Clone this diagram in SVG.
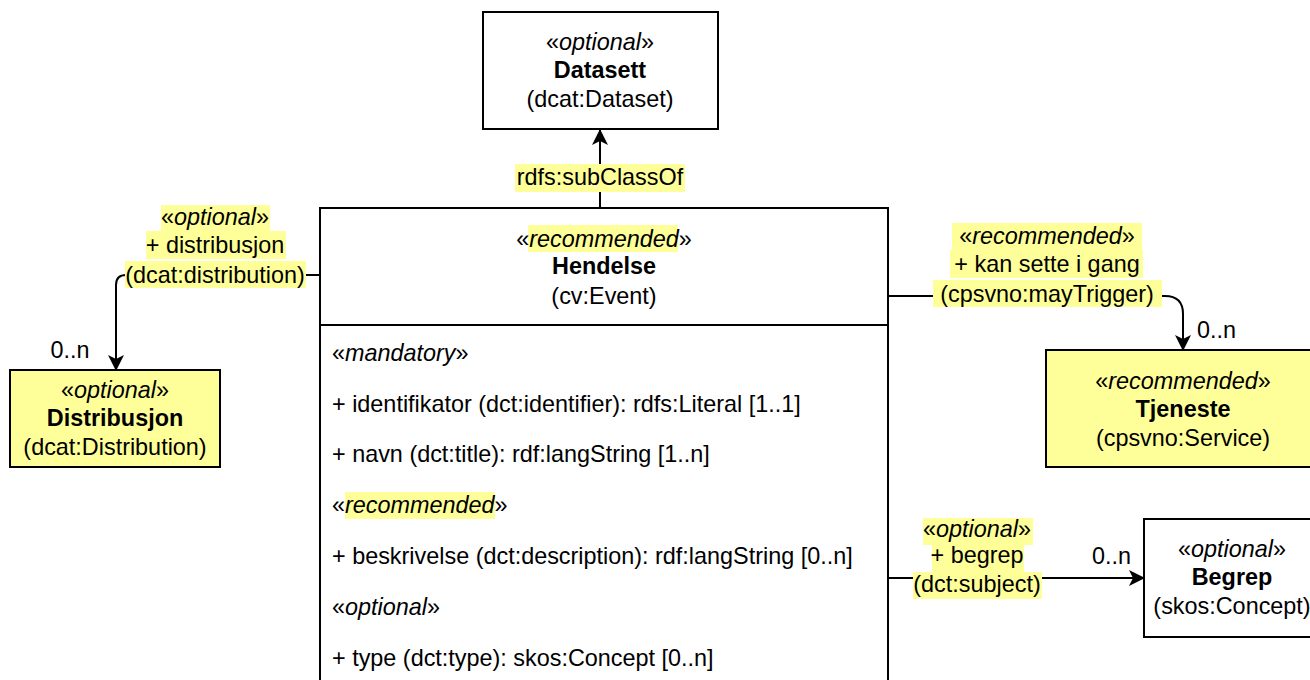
<svg xmlns="http://www.w3.org/2000/svg" width="1310" height="680" viewBox="0 0 1310 680">
<defs>
<style>
text{font-family:"Liberation Sans",Arial,sans-serif;font-size:23.4px;fill:#000}
.c{text-anchor:middle}
.b{font-weight:bold}
.i{font-style:italic}
.box{fill:#fff;stroke:#000;stroke-width:2}
.ybox{fill:#ffff99;stroke:#000;stroke-width:2}
.hl{fill:#ffff99;stroke:none}
.edge{fill:none;stroke:#000;stroke-width:2}
</style>
<marker id="arr" viewBox="0 0 16 16" refX="15" refY="8" markerWidth="16" markerHeight="16" markerUnits="userSpaceOnUse" orient="auto">
<path d="M0,0 L16,8 L0,16 L4,8 z" fill="#000"/>
</marker>
</defs>
<rect width="1310" height="680" fill="#fff"/>

<g id="connectors">
<path class="edge" d="M600,208 L600,130" marker-end="url(#arr)"/>
<path class="edge" d="M320,275 L126,275 Q116,275 116,285 L116,370" marker-end="url(#arr)"/>
<path class="edge" d="M888,296 L1165,296 Q1183,296 1183,314 L1183,350" marker-end="url(#arr)"/>
<path class="edge" d="M888,578 L1144,578" marker-end="url(#arr)"/>
</g>

<g id="labels">
<g id="label-subclassof">
<rect class="hl" x="515" y="164" width="170" height="28"/>
<text class="c" x="600" y="185">rdfs:subClassOf</text>
</g>
<g id="label-distribution">
<rect class="hl" x="161" y="205" width="109" height="26"/>
<rect class="hl" x="146" y="231" width="140" height="28"/>
<rect class="hl" x="125" y="261" width="181" height="27"/>
<text class="c" x="215" y="225">«<tspan class="i">optional</tspan>»</text>
<text class="c" x="215" y="253">+ distribusjon</text>
<text class="c" x="215" y="283">(dcat:distribution)</text>
<text class="c" x="70" y="358">0..n</text>
</g>
<g id="label-maytrigger">
<rect class="hl" x="952" y="223" width="190" height="27"/>
<rect class="hl" x="950" y="250" width="193" height="28"/>
<rect class="hl" x="933" y="280" width="229" height="27"/>
<text class="c" x="1047" y="244">«<tspan class="i">recommended</tspan>»</text>
<text class="c" x="1047" y="272">+ kan sette i gang</text>
<text class="c" x="1047" y="302">(cpsvno:mayTrigger)</text>
<text x="1197" y="338">0..n</text>
</g>
<g id="label-subject">
<rect class="hl" x="923" y="518" width="110" height="27"/>
<rect class="hl" x="932" y="545" width="92" height="27"/>
<rect class="hl" x="913" y="572" width="129" height="27"/>
<text class="c" x="977" y="537">«<tspan class="i">optional</tspan>»</text>
<text class="c" x="977" y="563">+ begrep</text>
<text class="c" x="977" y="592">(dct:subject)</text>
<text x="1092" y="564">0..n</text>
</g>
</g>

<g id="node-datasett">
<rect class="box" x="483" y="12" width="235" height="117"/>
<text class="c" x="600" y="50">«<tspan class="i">optional</tspan>»</text>
<text class="c b" x="600" y="78">Datasett</text>
<text class="c" x="600" y="107">(dcat:Dataset)</text>
</g>

<g id="node-distribusjon">
<rect class="ybox" x="10" y="370" width="210" height="97"/>
<text class="c" x="115" y="398">«<tspan class="i">optional</tspan>»</text>
<text class="c b" x="115" y="426">Distribusjon</text>
<text class="c" x="115" y="455">(dcat:Distribution)</text>
</g>

<g id="node-tjeneste">
<rect class="ybox" x="1046" y="350" width="276" height="117"/>
<text class="c" x="1183" y="389">«<tspan class="i">recommended</tspan>»</text>
<text class="c b" x="1183" y="417">Tjeneste</text>
<text class="c" x="1183" y="446">(cpsvno:Service)</text>
</g>

<g id="node-begrep">
<rect class="box" x="1144" y="519" width="178" height="118"/>
<text class="c" x="1232" y="557">«<tspan class="i">optional</tspan>»</text>
<text class="c b" x="1232" y="585">Begrep</text>
<text class="c" x="1232" y="614">(skos:Concept)</text>
</g>

<g id="node-hendelse">
<rect class="box" x="320" y="208" width="568" height="500"/>
<line class="edge" x1="320" y1="325" x2="888" y2="325"/>
<rect class="hl" x="528" y="225" width="150" height="27"/>
<text class="c" x="604" y="247">«<tspan class="i">recommended</tspan>»</text>
<text class="c b" x="604" y="274">Hendelse</text>
<text class="c" x="604" y="304">(cv:Event)</text>
<text x="332" y="361">«<tspan class="i">mandatory</tspan>»</text>
<text x="332" y="412">+ identifikator (dct:identifier): rdfs:Literal [1..1]</text>
<text x="332" y="462">+ navn (dct:title): rdf:langString [1..n]</text>
<rect class="hl" x="345" y="492" width="150" height="27"/>
<text x="332" y="513">«<tspan class="i">recommended</tspan>»</text>
<text x="332" y="564">+ beskrivelse (dct:description): rdf:langString [0..n]</text>
<text x="332" y="615">«<tspan class="i">optional</tspan>»</text>
<text x="332" y="666">+ type (dct:type): skos:Concept [0..n]</text>
</g>
</svg>
